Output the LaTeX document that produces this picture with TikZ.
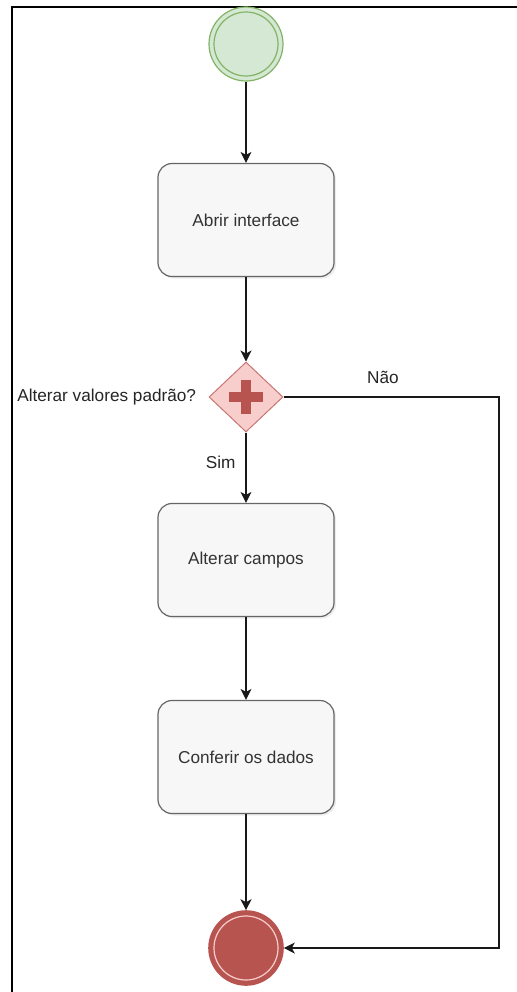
\documentclass[tikz,border=0pt]{standalone}
\usepackage{fontspec}
\setmainfont{Liberation Sans}
\usetikzlibrary{positioning,shapes.geometric,arrows.meta,shadows}
\definecolor{startfill}{HTML}{D5E8D4}
\definecolor{startline}{HTML}{82B366}
\definecolor{endfill}{HTML}{B85450}
\definecolor{gwfill}{HTML}{F8CECC}
\definecolor{boxline}{HTML}{666666}
\tikzset{
	event/.style = {circle, inner sep=0pt, minimum size=37pt},
	startev/.style = {event, fill=startfill, draw=startline, line width=0.6pt},
	endev/.style = {event, fill=endfill, draw=endfill, line width=0.8pt},
	task/.style = {rectangle, rounded corners=7pt, draw=boxline, line width=0.6pt,
		fill=black!3, minimum width=88pt, minimum height=56.5pt,
		font=\fontsize{8.6}{10}\selectfont, text=black!80,
		drop shadow={opacity=0.15, shadow xshift=1pt, shadow yshift=-1pt}},
	gateway/.style = {diamond, inner sep=0pt, minimum width=37pt, minimum height=35pt,
		fill=gwfill, draw=endfill!80, line width=0.5pt},
	flow/.style = {draw=black!90, line width=0.6pt, -{Stealth[length=5.5pt, width=5.5pt, inset=1.5pt]}},
	lbl/.style = {font=\fontsize{8.6}{10}\selectfont, text=black!85, inner sep=0pt}
}
\begin{document}
\begin{tikzpicture}[x=0.5pt, y=-0.5pt]
		\useasboundingbox (0,0) rectangle (517,992);
		% frame
		\draw[line width=1pt] (12,992) -- (12,7) -- (517,7);
		% nodes
		\node [startev] (start) at (246,44) {};
		\draw [startline, line width=0.6pt] (start.center) circle [radius=16pt];
		\node [task] (abrir) at (246,220) {Abrir interface};
		\node [gateway] (gw) at (246,397) {};
		\draw [endfill, line width=4.8pt] ([xshift=-8.5pt]gw.center) -- ([xshift=8.5pt]gw.center)
			([yshift=-8.5pt]gw.center) -- ([yshift=8.5pt]gw.center);
		\node [lbl, left=6pt of gw] (pergunta) {Alterar valores padrão?};
		\node [task] (alterar) at (246,560) {Alterar campos};
		\node [task] (conferir) at (246,757) {Conferir os dados};
		\node [endev] (fim) at (246,948) {};
		\draw [gwfill, line width=0.6pt] (fim.center) circle [radius=16pt];
		\coordinate (canto1) at (499,397);
		\coordinate (canto2) at (499,948);
		% connectors
		\draw [flow] (start) -- (abrir);
		\draw [flow] (abrir) -- (gw);
		\draw [flow] (gw) -- node [lbl, pos=0.42, left=5pt] (sim) {Sim} (alterar);
		\draw [flow] (alterar) -- (conferir);
		\draw [flow] (conferir) -- (fim);
		\draw [flow] (gw.east) -- (canto1) -- (canto2) -- (fim.east);
		\node [lbl] (nao) at (383,377) {Não};
\end{tikzpicture}
\end{document}
